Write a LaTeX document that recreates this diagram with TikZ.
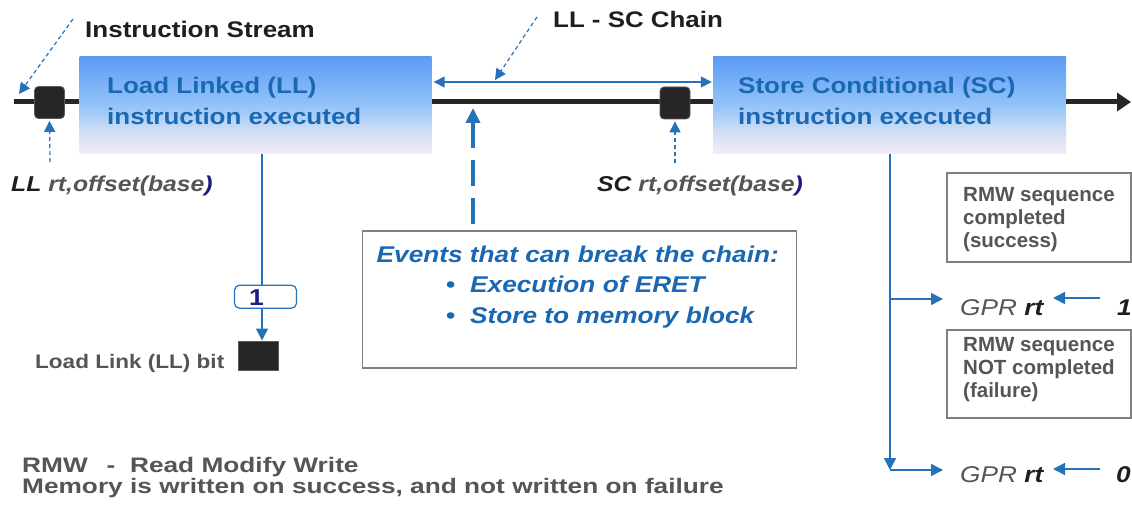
\documentclass[tikz,border=0pt]{standalone}
\usepackage{fontspec}
\setmainfont[FakeStretch=1.15]{Liberation Sans}
\newfontfamily\flatsans{Liberation Sans}
\newfontfamily\widesans[FakeStretch=1.25]{Liberation Sans}
\usetikzlibrary{arrows.meta}

\definecolor{txtblue}{RGB}{26,104,178}
\definecolor{lineblue}{RGB}{38,114,186}
\definecolor{inkgray}{RGB}{85,85,85}
\definecolor{inkdark}{RGB}{30,30,30}
\definecolor{navyink}{RGB}{28,28,130}
\definecolor{framegray}{RGB}{128,128,128}
\definecolor{chipblack}{RGB}{38,38,38}
\definecolor{chipedge}{RGB}{90,90,90}
\definecolor{fillbot}{RGB}{246,236,246}
\definecolor{filllow}{RGB}{206,222,246}
\definecolor{fillmid}{RGB}{148,195,248}
\definecolor{filltop}{RGB}{92,156,245}

% pale-pink to blue fill of the two stage boxes (path spans 25bp..75bp)
\pgfdeclareverticalshading{stagefill}{100bp}{color(0bp)=(fillbot); color(25bp)=(fillbot);
  color(37bp)=(filllow); color(50bp)=(fillmid); color(75bp)=(filltop); color(100bp)=(filltop)}

\newcommand\fsz[1]{\fontsize{#1}{#1}\selectfont}

\begin{document}
\begin{tikzpicture}[x=1pt,y=-1pt,
  stagebox/.style={shading=stagefill, draw=none, inner sep=0, minimum height=97},
  stagetext/.style={anchor=base west, inner sep=0, text=txtblue, font=\bfseries\fsz{22.6}},
  chip/.style={fill=chipblack, draw=chipedge, line width=0.8pt, rounded corners=4pt,
    minimum width=30, minimum height=32, inner sep=0},
  mainline/.style={draw=chipblack, line width=5pt},
  ptr/.style={draw=lineblue, line width=1.2pt, dash pattern=on 4pt off 3pt,
    -{Triangle[length=11pt,width=11pt]}},
  bigptr/.style={draw=lineblue, line width=4pt, dash pattern=on 26pt off 12pt,
    {Triangle[length=15pt,width=14pt]}-},
  link/.style={draw=lineblue, line width=1.5pt, -{Triangle[length=12pt,width=12pt]}},
  note/.style={draw=framegray, line width=1.3pt, fill=white, inner sep=0},
  lbl/.style={anchor=base west, inner sep=0},
  optext/.style={lbl, font=\bfseries\itshape\fsz{21.5}},
  gprtext/.style={lbl, font=\itshape\fsz{22.8}, text=inkgray},
  notetext/.style={lbl, font=\flatsans\bfseries\fsz{20.5}, text=inkgray},
  eventtext/.style={lbl, font=\bfseries\itshape\fsz{22.8}, text=txtblue},
  foottext/.style={lbl, font=\widesans\bfseries\fsz{21}, text=inkgray}
]
\useasboundingbox (0,0) rectangle (1132,505);
\fill[white] (0,0) rectangle (1132,505);

% ---- instruction stream -------------------------------------------------
\node[stagebox, minimum width=352] (ll) at (255.5,105.5) {};
\node[stagebox, minimum width=353] (sc) at (889.5,105.5) {};
\coordinate (streamstart) at (14,102);
\coordinate (streamend) at (1131,102);
\draw[mainline] (streamstart) -- (ll.west |- streamstart);
\draw[mainline] (ll.east |- streamstart) -- (sc.west |- streamstart);
\draw[mainline, -{Triangle[length=14pt,width=18pt]}] (sc.east |- streamstart) -- (streamend);
\node[chip] (chipll) at (49.5,102.5) {};
\node[chip] (chipsc) at (675,103) {};

\node[stagetext] (lltop) at (107,93.3) {Load Linked (LL)};
\node[stagetext] (llbot) at (107,124.5) {instruction executed};
\node[stagetext] (sctop) at (738,93.3) {Store Conditional (SC)};
\node[stagetext] (scbot) at (738,124.5) {instruction executed};

% ---- headings and pointers ----------------------------------------------
\node[lbl, font=\bfseries\fsz{22.6}, text=inkdark] (stream) at (85,37.5) {Instruction Stream};
\coordinate (streamtail) at (73,19);
\coordinate (streamhit) at (19,94);
\draw[ptr] (streamtail) -- (streamhit);

\node[lbl, font=\bfseries\fsz{22.5}, text=inkdark] (chain) at (553,27.5) {LL - SC Chain};
\coordinate (chainlvl) at (0,82);
\draw[draw=lineblue, line width=1.5pt, {Triangle[length=11pt,width=11pt]}-{Triangle[length=11pt,width=11pt]}]
  ([xshift=2pt]ll.east |- chainlvl) -- ([xshift=-1pt]sc.west |- chainlvl);
\coordinate (chaintail) at (537,17);
\coordinate (chainhit) at (495,80);
\draw[ptr] (chaintail) -- (chainhit);

\coordinate (llopfoot) at (50,162);
\draw[ptr, shorten >=2pt] (llopfoot) -- (chipll.south);
\coordinate (scopfoot) at (675,163);
\draw[ptr, shorten >=2pt] (scopfoot) -- (chipsc.south);

\node[optext] (llop) at (11,192)
  {\textcolor{inkdark}{LL} \textcolor{inkgray}{rt,offset(base}\textcolor{navyink}{)}};
\node[optext] (scop) at (597,192)
  {\textcolor{inkdark}{SC} \textcolor{inkgray}{rt,offset(base}\textcolor{navyink}{)}};

% ---- events that break the chain ----------------------------------------
\node[note, minimum width=434, minimum height=137] (events) at (579.5,299.5) {};
\coordinate (breakhit) at (473,108);
\coordinate (breakbase) at (473,227);
\draw[bigptr] (breakhit) -- (breakbase);
\node[eventtext] (evhead) at (376.5,262) {Events that can break the chain:};
\node[eventtext] (evbulla) at (446,292.5) {\upshape•};
\node[eventtext] (evitema) at (470,292.5) {Execution of ERET};
\node[eventtext] (evbullb) at (446,323) {\upshape•};
\node[eventtext] (evitemb) at (470,323) {Store to memory block};

% ---- LL bit -------------------------------------------------------------
\node[fill=chipblack, draw=chipedge, line width=0.8pt, minimum width=40, minimum height=29,
  inner sep=0] (llbit) at (258.3,355.4) {};
\coordinate (llwire) at (262,154);
\draw[link] (llwire) -- (llwire |- llbit.north);
\node[draw=lineblue, line width=1.2pt, rounded corners=5pt, fill=white, minimum width=62,
  minimum height=23, inner sep=0] (bitval) at (265.5,296.7) {};
\node[lbl, font=\bfseries\fsz{23}, text=navyink] (bitone) at (249,305) {1};
\node[lbl, font=\bfseries\fsz{19.6}, text=inkgray] (bitname) at (35,368) {Load Link (LL) bit};

% ---- SC outcome ---------------------------------------------------------
\node[note, minimum width=184, minimum height=89] (okbox) at (1039,217.5) {};
\node[notetext] (oka) at (963,201.5) {RMW sequence};
\node[notetext] (okb) at (963,224.5) {completed};
\node[notetext] (okc) at (963,247.5) {(success)};
\node[note, minimum width=184, minimum height=88] (failbox) at (1039,374) {};
\node[notetext] (faila) at (963,351) {RMW sequence};
\node[notetext] (failb) at (963,374) {NOT completed};
\node[notetext] (failc) at (963,397) {(failure)};

\coordinate (scwire) at (890,154);
\coordinate (rowone) at (890,299);
\coordinate (rowzero) at (890,470);
\coordinate (gproneleft) at (943,299);
\coordinate (gprzeroleft) at (943,470);
\draw[link] (scwire) -- (rowzero);
\draw[link] (rowone) -- (gproneleft);
\draw[link] (rowzero) -- (gprzeroleft);

\node[gprtext] (gprone) at (960,315) {GPR \textcolor{inkdark}{\bfseries rt}};
\node[gprtext] (gprzero) at (960,482) {GPR \textcolor{inkdark}{\bfseries rt}};
\node[lbl, font=\bfseries\itshape\fsz{22.8}, text=inkdark] (valone) at (1117,315) {1};
\node[lbl, font=\bfseries\itshape\fsz{22.8}, text=inkdark] (valzero) at (1116,482) {0};
\coordinate (onetail) at (1100,298);
\coordinate (onehead) at (1053,298);
\coordinate (zerotail) at (1100,469);
\coordinate (zerohead) at (1053,469);
\draw[link] (onetail) -- (onehead);
\draw[link] (zerotail) -- (zerohead);

% ---- footnote -----------------------------------------------------------
\node[foottext] (foota) at (22,472) {RMW\hspace{0.9em}-\hspace{0.35em} Read Modify Write};
\node[foottext] (footb) at (22,493) {Memory is written on success, and not written on failure};
\end{tikzpicture}
\end{document}
